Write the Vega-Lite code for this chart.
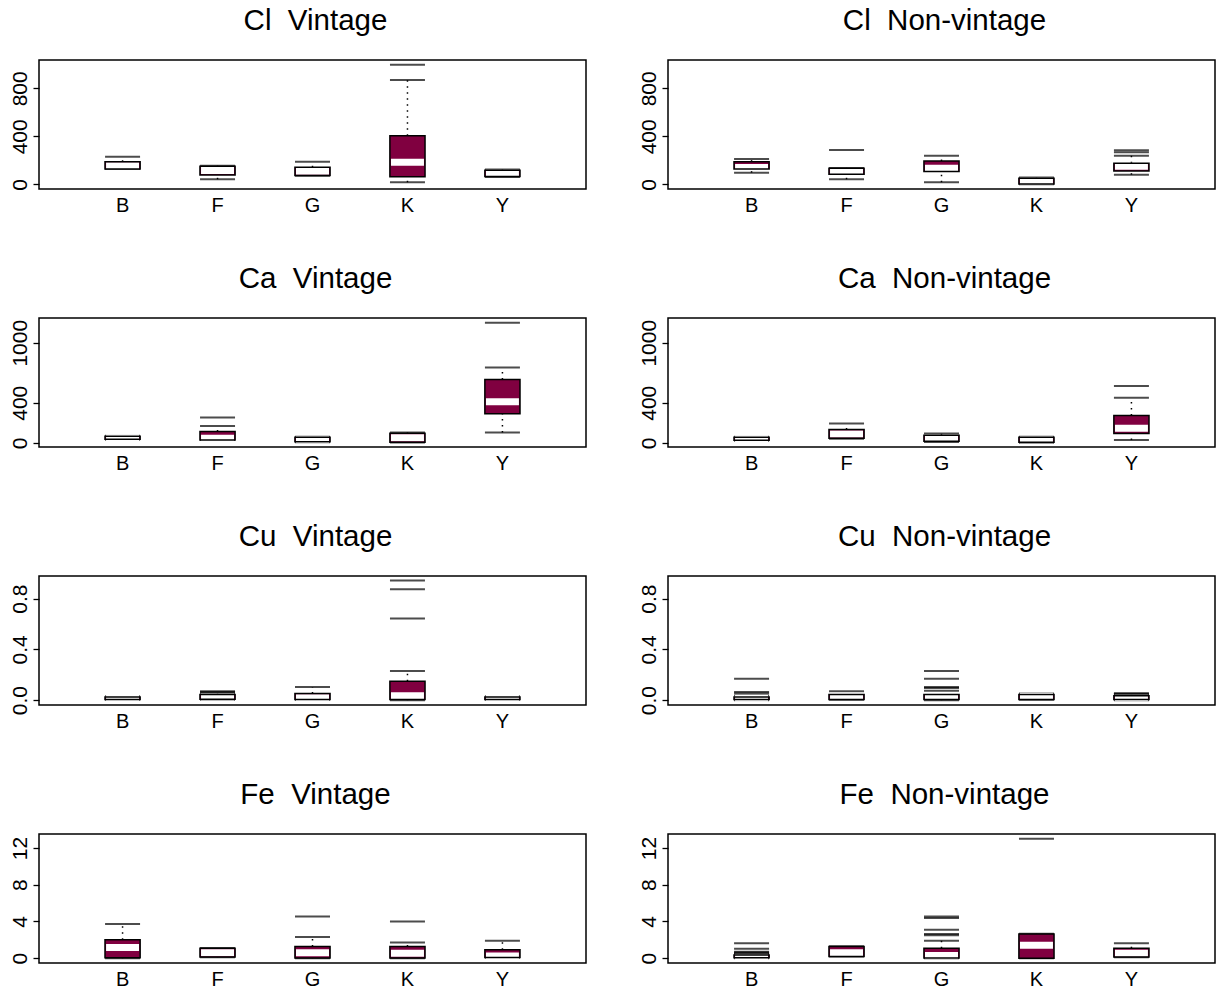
{
"$schema": "https://vega.github.io/schema/vega-lite/v6.json",
"padding": {"left": 8, "top": 4, "right": 5, "bottom": 5},
"background": "white",
"spacing": 46,
"datasets": {
"boxes": [
{"el":"Cl","type":"V","cat":"B","lo":127,"q1":128,"med":155,"q3":188,"hi":230},
{"el":"Cl","type":"V","cat":"F","lo":42,"q1":78,"med":115,"q3":150,"hi":155},
{"el":"Cl","type":"V","cat":"G","lo":72,"q1":73,"med":108,"q3":142,"hi":188},
{"el":"Cl","type":"V","cat":"K","lo":17,"q1":64,"med":183,"q3":405,"hi":869},
{"el":"Cl","type":"V","cat":"Y","lo":62,"q1":66,"med":93,"q3":118,"hi":124},
{"el":"Cl","type":"NV","cat":"B","lo":97,"q1":128,"med":140,"q3":189,"hi":211},
{"el":"Cl","type":"NV","cat":"F","lo":42,"q1":83,"med":105,"q3":133,"hi":137},
{"el":"Cl","type":"NV","cat":"G","lo":17,"q1":106,"med":133,"q3":194,"hi":238},
{"el":"Cl","type":"NV","cat":"K","lo":0,"q1":3,"med":25,"q3":50,"hi":56},
{"el":"Cl","type":"NV","cat":"Y","lo":80,"q1":112,"med":150,"q3":175,"hi":238},
{"el":"Ca","type":"V","cat":"B","lo":30,"q1":35,"med":50,"q3":65,"hi":70},
{"el":"Ca","type":"V","cat":"F","lo":27,"q1":28,"med":45,"q3":113,"hi":167},
{"el":"Ca","type":"V","cat":"G","lo":5,"q1":10,"med":30,"q3":55,"hi":60},
{"el":"Ca","type":"V","cat":"K","lo":3,"q1":5,"med":50,"q3":95,"hi":103},
{"el":"Ca","type":"V","cat":"Y","lo":103,"q1":290,"med":410,"q3":633,"hi":753},
{"el":"Ca","type":"NV","cat":"B","lo":20,"q1":25,"med":40,"q3":55,"hi":60},
{"el":"Ca","type":"NV","cat":"F","lo":40,"q1":45,"med":88,"q3":133,"hi":193},
{"el":"Ca","type":"NV","cat":"G","lo":8,"q1":15,"med":45,"q3":75,"hi":93},
{"el":"Ca","type":"NV","cat":"K","lo":0,"q1":5,"med":30,"q3":55,"hi":60},
{"el":"Ca","type":"NV","cat":"Y","lo":27,"q1":93,"med":145,"q3":273,"hi":450},
{"el":"Cu","type":"V","cat":"B","lo":0.003,"q1":0.006,"med":0.015,"q3":0.025,"hi":0.031},
{"el":"Cu","type":"V","cat":"F","lo":0.003,"q1":0.008,"med":0.025,"q3":0.045,"hi":0.055},
{"el":"Cu","type":"V","cat":"G","lo":0.003,"q1":0.005,"med":0.02,"q3":0.052,"hi":0.104},
{"el":"Cu","type":"V","cat":"K","lo":0.0,"q1":0.005,"med":0.035,"q3":0.149,"hi":0.229},
{"el":"Cu","type":"V","cat":"Y","lo":0.003,"q1":0.005,"med":0.015,"q3":0.025,"hi":0.03},
{"el":"Cu","type":"NV","cat":"B","lo":0.0,"q1":0.005,"med":0.015,"q3":0.025,"hi":0.035},
{"el":"Cu","type":"NV","cat":"F","lo":0.003,"q1":0.005,"med":0.03,"q3":0.044,"hi":0.07},
{"el":"Cu","type":"NV","cat":"G","lo":0.0,"q1":0.005,"med":0.03,"q3":0.044,"hi":0.075},
{"el":"Cu","type":"NV","cat":"K","lo":0.003,"q1":0.005,"med":0.03,"q3":0.045,"hi":0.052},
{"el":"Cu","type":"NV","cat":"Y","lo":0.0,"q1":0.005,"med":0.02,"q3":0.035,"hi":0.045},
{"el":"Fe","type":"V","cat":"B","lo":0.0,"q1":0.05,"med":1.16,"q3":2.0,"hi":3.72},
{"el":"Fe","type":"V","cat":"F","lo":0.1,"q1":0.12,"med":0.6,"q3":1.09,"hi":1.1},
{"el":"Fe","type":"V","cat":"G","lo":0.0,"q1":0.02,"med":0.6,"q3":1.27,"hi":2.3},
{"el":"Fe","type":"V","cat":"K","lo":0.0,"q1":0.02,"med":0.55,"q3":1.27,"hi":1.71},
{"el":"Fe","type":"V","cat":"Y","lo":0.05,"q1":0.07,"med":0.25,"q3":0.91,"hi":1.89},
{"el":"Fe","type":"NV","cat":"B","lo":0.0,"q1":0.05,"med":0.2,"q3":0.35,"hi":0.45},
{"el":"Fe","type":"NV","cat":"F","lo":0.18,"q1":0.2,"med":0.6,"q3":1.27,"hi":1.3},
{"el":"Fe","type":"NV","cat":"G","lo":0.0,"q1":0.02,"med":0.3,"q3":1.09,"hi":1.89},
{"el":"Fe","type":"NV","cat":"K","lo":0.0,"q1":0.0,"med":1.4,"q3":2.63,"hi":2.65},
{"el":"Fe","type":"NV","cat":"Y","lo":0.1,"q1":0.12,"med":0.55,"q3":1.09,"hi":1.64}
],
"outliers": [
{"el":"Cl","type":"V","cat":"K","v":996},
{"el":"Cl","type":"NV","cat":"F","v":286},
{"el":"Cl","type":"NV","cat":"Y","v":268},
{"el":"Cl","type":"NV","cat":"Y","v":283},
{"el":"Ca","type":"V","cat":"F","v":253},
{"el":"Ca","type":"V","cat":"Y","v":1200},
{"el":"Ca","type":"NV","cat":"Y","v":567},
{"el":"Cu","type":"V","cat":"F","v":0.065},
{"el":"Cu","type":"V","cat":"F","v":0.07},
{"el":"Cu","type":"V","cat":"K","v":0.644},
{"el":"Cu","type":"V","cat":"K","v":0.873},
{"el":"Cu","type":"V","cat":"K","v":0.943},
{"el":"Cu","type":"NV","cat":"B","v":0.052},
{"el":"Cu","type":"NV","cat":"B","v":0.065},
{"el":"Cu","type":"NV","cat":"B","v":0.169},
{"el":"Cu","type":"NV","cat":"G","v":0.095},
{"el":"Cu","type":"NV","cat":"G","v":0.104},
{"el":"Cu","type":"NV","cat":"G","v":0.169},
{"el":"Cu","type":"NV","cat":"G","v":0.23},
{"el":"Cu","type":"NV","cat":"Y","v":0.05},
{"el":"Cu","type":"NV","cat":"Y","v":0.055},
{"el":"Fe","type":"V","cat":"G","v":4.55},
{"el":"Fe","type":"V","cat":"K","v":4.0},
{"el":"Fe","type":"NV","cat":"B","v":0.55},
{"el":"Fe","type":"NV","cat":"B","v":0.62},
{"el":"Fe","type":"NV","cat":"B","v":0.7},
{"el":"Fe","type":"NV","cat":"B","v":1.02},
{"el":"Fe","type":"NV","cat":"B","v":1.64},
{"el":"Fe","type":"NV","cat":"G","v":2.5},
{"el":"Fe","type":"NV","cat":"G","v":2.63},
{"el":"Fe","type":"NV","cat":"G","v":3.1},
{"el":"Fe","type":"NV","cat":"G","v":4.38},
{"el":"Fe","type":"NV","cat":"G","v":4.55},
{"el":"Fe","type":"NV","cat":"K","v":13.0}
]
},
"config": {
"view": {"stroke": "black", "strokeWidth": 1.5},
"axis": {"labelFont": "Liberation Sans", "labelFontSize": 20, "labelColor": "black", "tickColor": "black", "grid": false, "labelOverlap": false},
"axisY": {"domain": false, "tickSize": 6, "tickWidth": 1.3, "labelAngle": 270, "labelAlign": "center", "labelBaseline": "bottom", "labelPadding": 3, "labelOverlap": false, "labelFontSize": 21},
"axisX": {"domain": false, "ticks": false, "labelAngle": 0, "labelPadding": 6},
"title": {"font": "Liberation Sans", "fontSize": 29.5, "fontWeight": "normal", "color": "black", "anchor": "middle", "offset": 24, "dx": 3}
},
"vconcat": [
{"spacing": 50, "hconcat": [
{"title": "Cl \u00a0Vintage", "width": 547, "height": 129,
 "data": {"name": "boxes"}, "transform": [{"filter": "datum.el=='Cl' && datum.type=='V'"}],
 "encoding": {"x": {"field": "cat", "type": "nominal", "sort": ["B","F","G","K","Y"], "scale": {"type": "band", "domain": ["B","F","G","K","Y"], "paddingInner": 0, "paddingOuter": 0.38}, "title": null}},
 "layer": [
  {"mark": {"type": "rule", "strokeDash": [1.5, 4.5], "color": "black", "strokeWidth": 1.5}, "encoding": {"y": {"field": "lo", "type": "quantitative", "scale": {"domain": [-39, 1036], "nice": false, "zero": false}, "axis": {"values": [0,200,400,600,800,1000], "format": "d", "labelExpr": "datum.value == 0 || datum.value == 400 || datum.value == 800 ? datum.label : ''"}, "title": null}, "y2": {"field": "q1"}}},
  {"mark": {"type": "rule", "strokeDash": [1.5, 4.5], "color": "black", "strokeWidth": 1.5}, "encoding": {"y": {"field": "q3", "type": "quantitative", "scale": {"domain": [-39, 1036], "nice": false, "zero": false}, "title": null}, "y2": {"field": "hi"}}},
  {"mark": {"type": "tick", "size": 35, "thickness": 2, "color": "black"}, "encoding": {"y": {"field": "lo", "type": "quantitative", "scale": {"domain": [-39, 1036], "nice": false, "zero": false}, "title": null}}},
  {"mark": {"type": "tick", "size": 35, "thickness": 2, "color": "black"}, "encoding": {"y": {"field": "hi", "type": "quantitative", "scale": {"domain": [-39, 1036], "nice": false, "zero": false}, "title": null}}},
  {"mark": {"type": "bar", "width": {"band": 0.37}, "color": "#800040"}, "encoding": {"y": {"field": "q1", "type": "quantitative", "scale": {"domain": [-39, 1036], "nice": false, "zero": false}, "title": null}, "y2": {"field": "q3"}}},
  {"mark": {"type": "tick", "size": 33, "thickness": 7, "color": "white", "opacity": 1}, "encoding": {"y": {"field": "med", "type": "quantitative", "scale": {"domain": [-39, 1036], "nice": false, "zero": false}, "title": null}}},
  {"mark": {"type": "bar", "width": {"band": 0.37}, "fillOpacity": 0, "stroke": "black", "strokeWidth": 1.5}, "encoding": {"y": {"field": "q1", "type": "quantitative", "scale": {"domain": [-39, 1036], "nice": false, "zero": false}, "title": null}, "y2": {"field": "q3"}}},
  {"data": {"name": "outliers"}, "transform": [{"filter": "datum.el=='Cl' && datum.type=='V'"}], "mark": {"type": "tick", "size": 35, "thickness": 2, "color": "black"}, "encoding": {"y": {"field": "v", "type": "quantitative", "scale": {"domain": [-39, 1036], "nice": false, "zero": false}, "title": null}}}
 ]},
{"title": "Cl \u00a0Non-vintage", "width": 547, "height": 129,
 "data": {"name": "boxes"}, "transform": [{"filter": "datum.el=='Cl' && datum.type=='NV'"}],
 "encoding": {"x": {"field": "cat", "type": "nominal", "sort": ["B","F","G","K","Y"], "scale": {"type": "band", "domain": ["B","F","G","K","Y"], "paddingInner": 0, "paddingOuter": 0.38}, "title": null}},
 "layer": [
  {"mark": {"type": "rule", "strokeDash": [1.5, 4.5], "color": "black", "strokeWidth": 1.5}, "encoding": {"y": {"field": "lo", "type": "quantitative", "scale": {"domain": [-39, 1036], "nice": false, "zero": false}, "axis": {"values": [0,200,400,600,800,1000], "format": "d", "labelExpr": "datum.value == 0 || datum.value == 400 || datum.value == 800 ? datum.label : ''"}, "title": null}, "y2": {"field": "q1"}}},
  {"mark": {"type": "rule", "strokeDash": [1.5, 4.5], "color": "black", "strokeWidth": 1.5}, "encoding": {"y": {"field": "q3", "type": "quantitative", "scale": {"domain": [-39, 1036], "nice": false, "zero": false}, "title": null}, "y2": {"field": "hi"}}},
  {"mark": {"type": "tick", "size": 35, "thickness": 2, "color": "black"}, "encoding": {"y": {"field": "lo", "type": "quantitative", "scale": {"domain": [-39, 1036], "nice": false, "zero": false}, "title": null}}},
  {"mark": {"type": "tick", "size": 35, "thickness": 2, "color": "black"}, "encoding": {"y": {"field": "hi", "type": "quantitative", "scale": {"domain": [-39, 1036], "nice": false, "zero": false}, "title": null}}},
  {"mark": {"type": "bar", "width": {"band": 0.37}, "color": "#800040"}, "encoding": {"y": {"field": "q1", "type": "quantitative", "scale": {"domain": [-39, 1036], "nice": false, "zero": false}, "title": null}, "y2": {"field": "q3"}}},
  {"mark": {"type": "tick", "size": 33, "thickness": 7, "color": "white", "opacity": 1}, "encoding": {"y": {"field": "med", "type": "quantitative", "scale": {"domain": [-39, 1036], "nice": false, "zero": false}, "title": null}}},
  {"mark": {"type": "bar", "width": {"band": 0.37}, "fillOpacity": 0, "stroke": "black", "strokeWidth": 1.5}, "encoding": {"y": {"field": "q1", "type": "quantitative", "scale": {"domain": [-39, 1036], "nice": false, "zero": false}, "title": null}, "y2": {"field": "q3"}}},
  {"data": {"name": "outliers"}, "transform": [{"filter": "datum.el=='Cl' && datum.type=='NV'"}], "mark": {"type": "tick", "size": 35, "thickness": 2, "color": "black"}, "encoding": {"y": {"field": "v", "type": "quantitative", "scale": {"domain": [-39, 1036], "nice": false, "zero": false}, "title": null}}}
 ]}
]},
{"spacing": 50, "hconcat": [
{"title": "Ca \u00a0Vintage", "width": 547, "height": 129,
 "data": {"name": "boxes"}, "transform": [{"filter": "datum.el=='Ca' && datum.type=='V'"}],
 "encoding": {"x": {"field": "cat", "type": "nominal", "sort": ["B","F","G","K","Y"], "scale": {"type": "band", "domain": ["B","F","G","K","Y"], "paddingInner": 0, "paddingOuter": 0.38}, "title": null}},
 "layer": [
  {"mark": {"type": "rule", "strokeDash": [1.5, 4.5], "color": "black", "strokeWidth": 1.5}, "encoding": {"y": {"field": "lo", "type": "quantitative", "scale": {"domain": [-42, 1247], "nice": false, "zero": false}, "axis": {"values": [0,200,400,600,1000], "format": "d", "labelExpr": "datum.value == 0 || datum.value == 400 || datum.value == 1000 ? datum.label : ''"}, "title": null}, "y2": {"field": "q1"}}},
  {"mark": {"type": "rule", "strokeDash": [1.5, 4.5], "color": "black", "strokeWidth": 1.5}, "encoding": {"y": {"field": "q3", "type": "quantitative", "scale": {"domain": [-42, 1247], "nice": false, "zero": false}, "title": null}, "y2": {"field": "hi"}}},
  {"mark": {"type": "tick", "size": 35, "thickness": 2, "color": "black"}, "encoding": {"y": {"field": "lo", "type": "quantitative", "scale": {"domain": [-42, 1247], "nice": false, "zero": false}, "title": null}}},
  {"mark": {"type": "tick", "size": 35, "thickness": 2, "color": "black"}, "encoding": {"y": {"field": "hi", "type": "quantitative", "scale": {"domain": [-42, 1247], "nice": false, "zero": false}, "title": null}}},
  {"mark": {"type": "bar", "width": {"band": 0.37}, "color": "#800040"}, "encoding": {"y": {"field": "q1", "type": "quantitative", "scale": {"domain": [-42, 1247], "nice": false, "zero": false}, "title": null}, "y2": {"field": "q3"}}},
  {"mark": {"type": "tick", "size": 33, "thickness": 7, "color": "white", "opacity": 1}, "encoding": {"y": {"field": "med", "type": "quantitative", "scale": {"domain": [-42, 1247], "nice": false, "zero": false}, "title": null}}},
  {"mark": {"type": "bar", "width": {"band": 0.37}, "fillOpacity": 0, "stroke": "black", "strokeWidth": 1.5}, "encoding": {"y": {"field": "q1", "type": "quantitative", "scale": {"domain": [-42, 1247], "nice": false, "zero": false}, "title": null}, "y2": {"field": "q3"}}},
  {"data": {"name": "outliers"}, "transform": [{"filter": "datum.el=='Ca' && datum.type=='V'"}], "mark": {"type": "tick", "size": 35, "thickness": 2, "color": "black"}, "encoding": {"y": {"field": "v", "type": "quantitative", "scale": {"domain": [-42, 1247], "nice": false, "zero": false}, "title": null}}}
 ]},
{"title": "Ca \u00a0Non-vintage", "width": 547, "height": 129,
 "data": {"name": "boxes"}, "transform": [{"filter": "datum.el=='Ca' && datum.type=='NV'"}],
 "encoding": {"x": {"field": "cat", "type": "nominal", "sort": ["B","F","G","K","Y"], "scale": {"type": "band", "domain": ["B","F","G","K","Y"], "paddingInner": 0, "paddingOuter": 0.38}, "title": null}},
 "layer": [
  {"mark": {"type": "rule", "strokeDash": [1.5, 4.5], "color": "black", "strokeWidth": 1.5}, "encoding": {"y": {"field": "lo", "type": "quantitative", "scale": {"domain": [-42, 1247], "nice": false, "zero": false}, "axis": {"values": [0,200,400,600,1000], "format": "d", "labelExpr": "datum.value == 0 || datum.value == 400 || datum.value == 1000 ? datum.label : ''"}, "title": null}, "y2": {"field": "q1"}}},
  {"mark": {"type": "rule", "strokeDash": [1.5, 4.5], "color": "black", "strokeWidth": 1.5}, "encoding": {"y": {"field": "q3", "type": "quantitative", "scale": {"domain": [-42, 1247], "nice": false, "zero": false}, "title": null}, "y2": {"field": "hi"}}},
  {"mark": {"type": "tick", "size": 35, "thickness": 2, "color": "black"}, "encoding": {"y": {"field": "lo", "type": "quantitative", "scale": {"domain": [-42, 1247], "nice": false, "zero": false}, "title": null}}},
  {"mark": {"type": "tick", "size": 35, "thickness": 2, "color": "black"}, "encoding": {"y": {"field": "hi", "type": "quantitative", "scale": {"domain": [-42, 1247], "nice": false, "zero": false}, "title": null}}},
  {"mark": {"type": "bar", "width": {"band": 0.37}, "color": "#800040"}, "encoding": {"y": {"field": "q1", "type": "quantitative", "scale": {"domain": [-42, 1247], "nice": false, "zero": false}, "title": null}, "y2": {"field": "q3"}}},
  {"mark": {"type": "tick", "size": 33, "thickness": 7, "color": "white", "opacity": 1}, "encoding": {"y": {"field": "med", "type": "quantitative", "scale": {"domain": [-42, 1247], "nice": false, "zero": false}, "title": null}}},
  {"mark": {"type": "bar", "width": {"band": 0.37}, "fillOpacity": 0, "stroke": "black", "strokeWidth": 1.5}, "encoding": {"y": {"field": "q1", "type": "quantitative", "scale": {"domain": [-42, 1247], "nice": false, "zero": false}, "title": null}, "y2": {"field": "q3"}}},
  {"data": {"name": "outliers"}, "transform": [{"filter": "datum.el=='Ca' && datum.type=='NV'"}], "mark": {"type": "tick", "size": 35, "thickness": 2, "color": "black"}, "encoding": {"y": {"field": "v", "type": "quantitative", "scale": {"domain": [-42, 1247], "nice": false, "zero": false}, "title": null}}}
 ]}
]},
{"spacing": 50, "hconcat": [
{"title": "Cu \u00a0Vintage", "width": 547, "height": 129,
 "data": {"name": "boxes"}, "transform": [{"filter": "datum.el=='Cu' && datum.type=='V'"}],
 "encoding": {"x": {"field": "cat", "type": "nominal", "sort": ["B","F","G","K","Y"], "scale": {"type": "band", "domain": ["B","F","G","K","Y"], "paddingInner": 0, "paddingOuter": 0.38}, "title": null}},
 "layer": [
  {"mark": {"type": "rule", "strokeDash": [1.5, 4.5], "color": "black", "strokeWidth": 1.5}, "encoding": {"y": {"field": "lo", "type": "quantitative", "scale": {"domain": [-0.038, 0.978], "nice": false, "zero": false}, "axis": {"values": [0,0.2,0.4,0.6,0.8], "labelExpr": "indexof([0,0.4,0.8], datum.value) >= 0 ? format(datum.value, '.1f') : ''"}, "title": null}, "y2": {"field": "q1"}}},
  {"mark": {"type": "rule", "strokeDash": [1.5, 4.5], "color": "black", "strokeWidth": 1.5}, "encoding": {"y": {"field": "q3", "type": "quantitative", "scale": {"domain": [-0.038, 0.978], "nice": false, "zero": false}, "title": null}, "y2": {"field": "hi"}}},
  {"mark": {"type": "tick", "size": 35, "thickness": 2, "color": "black"}, "encoding": {"y": {"field": "lo", "type": "quantitative", "scale": {"domain": [-0.038, 0.978], "nice": false, "zero": false}, "title": null}}},
  {"mark": {"type": "tick", "size": 35, "thickness": 2, "color": "black"}, "encoding": {"y": {"field": "hi", "type": "quantitative", "scale": {"domain": [-0.038, 0.978], "nice": false, "zero": false}, "title": null}}},
  {"mark": {"type": "bar", "width": {"band": 0.37}, "color": "#800040"}, "encoding": {"y": {"field": "q1", "type": "quantitative", "scale": {"domain": [-0.038, 0.978], "nice": false, "zero": false}, "title": null}, "y2": {"field": "q3"}}},
  {"mark": {"type": "tick", "size": 33, "thickness": 7, "color": "white", "opacity": 1}, "encoding": {"y": {"field": "med", "type": "quantitative", "scale": {"domain": [-0.038, 0.978], "nice": false, "zero": false}, "title": null}}},
  {"mark": {"type": "bar", "width": {"band": 0.37}, "fillOpacity": 0, "stroke": "black", "strokeWidth": 1.5}, "encoding": {"y": {"field": "q1", "type": "quantitative", "scale": {"domain": [-0.038, 0.978], "nice": false, "zero": false}, "title": null}, "y2": {"field": "q3"}}},
  {"data": {"name": "outliers"}, "transform": [{"filter": "datum.el=='Cu' && datum.type=='V'"}], "mark": {"type": "tick", "size": 35, "thickness": 2, "color": "black"}, "encoding": {"y": {"field": "v", "type": "quantitative", "scale": {"domain": [-0.038, 0.978], "nice": false, "zero": false}, "title": null}}}
 ]},
{"title": "Cu \u00a0Non-vintage", "width": 547, "height": 129,
 "data": {"name": "boxes"}, "transform": [{"filter": "datum.el=='Cu' && datum.type=='NV'"}],
 "encoding": {"x": {"field": "cat", "type": "nominal", "sort": ["B","F","G","K","Y"], "scale": {"type": "band", "domain": ["B","F","G","K","Y"], "paddingInner": 0, "paddingOuter": 0.38}, "title": null}},
 "layer": [
  {"mark": {"type": "rule", "strokeDash": [1.5, 4.5], "color": "black", "strokeWidth": 1.5}, "encoding": {"y": {"field": "lo", "type": "quantitative", "scale": {"domain": [-0.038, 0.978], "nice": false, "zero": false}, "axis": {"values": [0,0.2,0.4,0.6,0.8], "labelExpr": "indexof([0,0.4,0.8], datum.value) >= 0 ? format(datum.value, '.1f') : ''"}, "title": null}, "y2": {"field": "q1"}}},
  {"mark": {"type": "rule", "strokeDash": [1.5, 4.5], "color": "black", "strokeWidth": 1.5}, "encoding": {"y": {"field": "q3", "type": "quantitative", "scale": {"domain": [-0.038, 0.978], "nice": false, "zero": false}, "title": null}, "y2": {"field": "hi"}}},
  {"mark": {"type": "tick", "size": 35, "thickness": 2, "color": "black"}, "encoding": {"y": {"field": "lo", "type": "quantitative", "scale": {"domain": [-0.038, 0.978], "nice": false, "zero": false}, "title": null}}},
  {"mark": {"type": "tick", "size": 35, "thickness": 2, "color": "black"}, "encoding": {"y": {"field": "hi", "type": "quantitative", "scale": {"domain": [-0.038, 0.978], "nice": false, "zero": false}, "title": null}}},
  {"mark": {"type": "bar", "width": {"band": 0.37}, "color": "#800040"}, "encoding": {"y": {"field": "q1", "type": "quantitative", "scale": {"domain": [-0.038, 0.978], "nice": false, "zero": false}, "title": null}, "y2": {"field": "q3"}}},
  {"mark": {"type": "tick", "size": 33, "thickness": 7, "color": "white", "opacity": 1}, "encoding": {"y": {"field": "med", "type": "quantitative", "scale": {"domain": [-0.038, 0.978], "nice": false, "zero": false}, "title": null}}},
  {"mark": {"type": "bar", "width": {"band": 0.37}, "fillOpacity": 0, "stroke": "black", "strokeWidth": 1.5}, "encoding": {"y": {"field": "q1", "type": "quantitative", "scale": {"domain": [-0.038, 0.978], "nice": false, "zero": false}, "title": null}, "y2": {"field": "q3"}}},
  {"data": {"name": "outliers"}, "transform": [{"filter": "datum.el=='Cu' && datum.type=='NV'"}], "mark": {"type": "tick", "size": 35, "thickness": 2, "color": "black"}, "encoding": {"y": {"field": "v", "type": "quantitative", "scale": {"domain": [-0.038, 0.978], "nice": false, "zero": false}, "title": null}}}
 ]}
]},
{"spacing": 50, "hconcat": [
{"title": "Fe \u00a0Vintage", "width": 547, "height": 129,
 "data": {"name": "boxes"}, "transform": [{"filter": "datum.el=='Fe' && datum.type=='V'"}],
 "encoding": {"x": {"field": "cat", "type": "nominal", "sort": ["B","F","G","K","Y"], "scale": {"type": "band", "domain": ["B","F","G","K","Y"], "paddingInner": 0, "paddingOuter": 0.38}, "title": null}},
 "layer": [
  {"mark": {"type": "rule", "strokeDash": [1.5, 4.5], "color": "black", "strokeWidth": 1.5}, "encoding": {"y": {"field": "lo", "type": "quantitative", "scale": {"domain": [-0.52, 13.52], "nice": false, "zero": false}, "axis": {"values": [0,2,4,6,8,10,12], "labelExpr": "datum.value % 4 == 0 ? datum.label : ''"}, "title": null}, "y2": {"field": "q1"}}},
  {"mark": {"type": "rule", "strokeDash": [1.5, 4.5], "color": "black", "strokeWidth": 1.5}, "encoding": {"y": {"field": "q3", "type": "quantitative", "scale": {"domain": [-0.52, 13.52], "nice": false, "zero": false}, "title": null}, "y2": {"field": "hi"}}},
  {"mark": {"type": "tick", "size": 35, "thickness": 2, "color": "black"}, "encoding": {"y": {"field": "lo", "type": "quantitative", "scale": {"domain": [-0.52, 13.52], "nice": false, "zero": false}, "title": null}}},
  {"mark": {"type": "tick", "size": 35, "thickness": 2, "color": "black"}, "encoding": {"y": {"field": "hi", "type": "quantitative", "scale": {"domain": [-0.52, 13.52], "nice": false, "zero": false}, "title": null}}},
  {"mark": {"type": "bar", "width": {"band": 0.37}, "color": "#800040"}, "encoding": {"y": {"field": "q1", "type": "quantitative", "scale": {"domain": [-0.52, 13.52], "nice": false, "zero": false}, "title": null}, "y2": {"field": "q3"}}},
  {"mark": {"type": "tick", "size": 33, "thickness": 7, "color": "white", "opacity": 1}, "encoding": {"y": {"field": "med", "type": "quantitative", "scale": {"domain": [-0.52, 13.52], "nice": false, "zero": false}, "title": null}}},
  {"mark": {"type": "bar", "width": {"band": 0.37}, "fillOpacity": 0, "stroke": "black", "strokeWidth": 1.5}, "encoding": {"y": {"field": "q1", "type": "quantitative", "scale": {"domain": [-0.52, 13.52], "nice": false, "zero": false}, "title": null}, "y2": {"field": "q3"}}},
  {"data": {"name": "outliers"}, "transform": [{"filter": "datum.el=='Fe' && datum.type=='V'"}], "mark": {"type": "tick", "size": 35, "thickness": 2, "color": "black"}, "encoding": {"y": {"field": "v", "type": "quantitative", "scale": {"domain": [-0.52, 13.52], "nice": false, "zero": false}, "title": null}}}
 ]},
{"title": "Fe \u00a0Non-vintage", "width": 547, "height": 129,
 "data": {"name": "boxes"}, "transform": [{"filter": "datum.el=='Fe' && datum.type=='NV'"}],
 "encoding": {"x": {"field": "cat", "type": "nominal", "sort": ["B","F","G","K","Y"], "scale": {"type": "band", "domain": ["B","F","G","K","Y"], "paddingInner": 0, "paddingOuter": 0.38}, "title": null}},
 "layer": [
  {"mark": {"type": "rule", "strokeDash": [1.5, 4.5], "color": "black", "strokeWidth": 1.5}, "encoding": {"y": {"field": "lo", "type": "quantitative", "scale": {"domain": [-0.52, 13.52], "nice": false, "zero": false}, "axis": {"values": [0,2,4,6,8,10,12], "labelExpr": "datum.value % 4 == 0 ? datum.label : ''"}, "title": null}, "y2": {"field": "q1"}}},
  {"mark": {"type": "rule", "strokeDash": [1.5, 4.5], "color": "black", "strokeWidth": 1.5}, "encoding": {"y": {"field": "q3", "type": "quantitative", "scale": {"domain": [-0.52, 13.52], "nice": false, "zero": false}, "title": null}, "y2": {"field": "hi"}}},
  {"mark": {"type": "tick", "size": 35, "thickness": 2, "color": "black"}, "encoding": {"y": {"field": "lo", "type": "quantitative", "scale": {"domain": [-0.52, 13.52], "nice": false, "zero": false}, "title": null}}},
  {"mark": {"type": "tick", "size": 35, "thickness": 2, "color": "black"}, "encoding": {"y": {"field": "hi", "type": "quantitative", "scale": {"domain": [-0.52, 13.52], "nice": false, "zero": false}, "title": null}}},
  {"mark": {"type": "bar", "width": {"band": 0.37}, "color": "#800040"}, "encoding": {"y": {"field": "q1", "type": "quantitative", "scale": {"domain": [-0.52, 13.52], "nice": false, "zero": false}, "title": null}, "y2": {"field": "q3"}}},
  {"mark": {"type": "tick", "size": 33, "thickness": 7, "color": "white", "opacity": 1}, "encoding": {"y": {"field": "med", "type": "quantitative", "scale": {"domain": [-0.52, 13.52], "nice": false, "zero": false}, "title": null}}},
  {"mark": {"type": "bar", "width": {"band": 0.37}, "fillOpacity": 0, "stroke": "black", "strokeWidth": 1.5}, "encoding": {"y": {"field": "q1", "type": "quantitative", "scale": {"domain": [-0.52, 13.52], "nice": false, "zero": false}, "title": null}, "y2": {"field": "q3"}}},
  {"data": {"name": "outliers"}, "transform": [{"filter": "datum.el=='Fe' && datum.type=='NV'"}], "mark": {"type": "tick", "size": 35, "thickness": 2, "color": "black"}, "encoding": {"y": {"field": "v", "type": "quantitative", "scale": {"domain": [-0.52, 13.52], "nice": false, "zero": false}, "title": null}}}
 ]}
]}
]
}
